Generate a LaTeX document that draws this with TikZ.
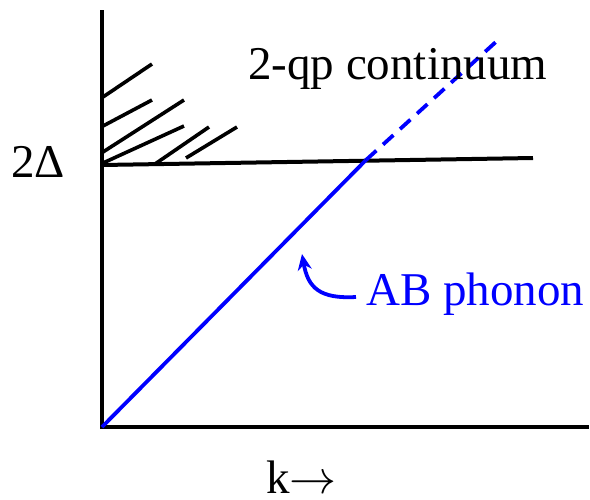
\RequirePackage{fix-cm}
\documentclass[tikz,border=0pt]{standalone}
\usepackage{fontspec}
\setmainfont{Liberation Serif}
\newfontfamily\tnr{Liberation Serif}
\usetikzlibrary{arrows.meta}
\definecolor{phblue}{RGB}{0,0,255}
\begin{document}
\begin{tikzpicture}[x=1pt,y=-1pt,
  axis/.style={line width=4pt},
  hatch/.style={line width=3.6pt},
  phonon/.style={line width=3.8pt,color=phblue},
  lab/.style={anchor=base west,inner sep=0pt,font=\tnr\fontsize{47}{50}\selectfont}]
\useasboundingbox (0,0) rectangle (590,499);
% axes
\coordinate (top) at (102,10);
\coordinate (orig) at (102,427);
\coordinate (xend) at (589,427);
\draw[axis] (top) -- (orig) -- (xend);
% gap line
\coordinate (gapL) at (102,165);
\coordinate (gapR) at (533,158);
\draw[axis] (gapL) -- (gapR);
% hatching
\draw[hatch] (103,97) -- (152,64);
\draw[hatch] (103,126) -- (152,100);
\draw[hatch] (103,152) -- (184,100);
\draw[hatch] (103,163) -- (184,126);
\draw[hatch] (155,164) -- (209,127);
\draw[hatch] (186,158) -- (237,127);
% phonon
\coordinate (cross) at (366,160);
\coordinate (phend) at (498,40);
\draw[phonon] (orig) -- (cross);
\draw[phonon,dash pattern=on 14pt off 9pt] (cross) -- (phend);
% labels
\node[lab] (cont) at (248,79) {2-qp continuum};
\node[lab] (gap) at (11,177) {2Δ};
\node[lab] (kax) at (266,493) {k$\rightarrow$};
\node[lab,text=phblue] (ab) at (366,305) {AB phonon};
\coordinate (arrtip) at (302,254);
\draw[phonon,-{Stealth[length=16pt,width=14pt]}] (ab.west|-0,297) ++(-10,0) .. controls (320,299) and (308,288) .. (arrtip);
\end{tikzpicture}
\end{document}
